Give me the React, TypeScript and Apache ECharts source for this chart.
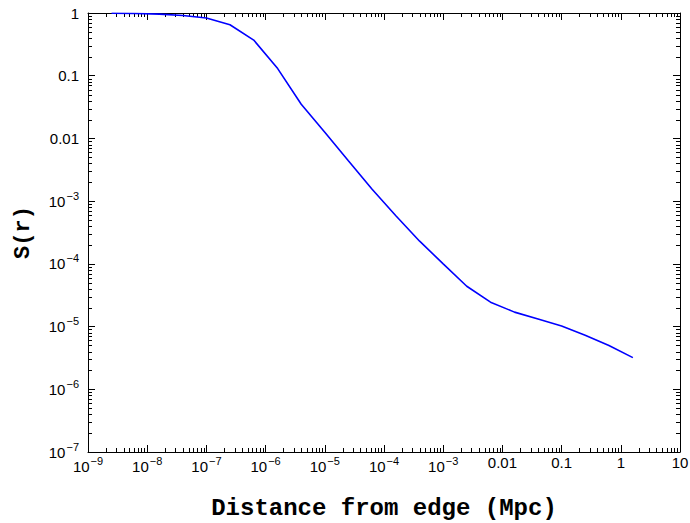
import React, { useEffect, useRef } from "react";
import * as echarts from "echarts";

const distance = [
  2.5e-9, 6.3e-9, 1.6e-8, 4e-8, 1e-7, 2.5e-7, 6.3e-7, 1.6e-6, 4e-6, 1e-5, 2.5e-5, 6.3e-5,
  1.6e-4, 4e-4, 1e-3, 2.5e-3, 6.3e-3, 1.6e-2, 4e-2, 0.1, 0.25, 0.63, 1.6,
];
const sValues = [
  0.99, 0.98, 0.96, 0.91, 0.83, 0.65, 0.37, 0.13, 0.035, 0.0125, 0.0044, 0.00155,
  5.8e-4, 2.3e-4, 1.0e-4, 4.4e-5, 2.45e-5, 1.7e-5, 1.32e-5, 1.02e-5, 7.3e-6, 5.0e-6, 3.2e-6,
];
const xRange = [1e-9, 10];
const yRange = [1e-7, 1];
const xPlainExponents = [-2, -1, 0, 1];
const yPlainExponents = [-2, -1, 0];
const xTitle = "Distance from edge (Mpc)";
const yTitle = "S(r)";

const TICK_FONT = "'Liberation Sans', Arial, sans-serif";
const TITLE_FONT = "'Liberation Mono', 'Courier New', monospace";

function fmt(v: number, plain: number[]) {
  const e = Math.round(Math.log10(v));
  if (plain.includes(e)) {
    const str = e >= 0 ? String(Math.pow(10, e)) : (Math.pow(10, e)).toFixed(-e);
    return "{b|" + str + "}";
  }
  return "{b|10}{s|\u2212" + Math.abs(e) + "}";
}

const rich = {
  b: { fontSize: 15, fontFamily: TICK_FONT, color: "#000" },
  s: { fontSize: 11, fontFamily: TICK_FONT, color: "#000", padding: [0, 0, 11, 1] },
};

export default function App() {
  const ref = useRef<HTMLDivElement>(null);
  useEffect(() => {
    if (!ref.current) return;
    const chart = echarts.init(ref.current, null, { renderer: "svg" });
    const axisLine = { show: true, onZero: false, lineStyle: { color: "#000", width: 1 } };
    const majorTick = { show: true, inside: true, length: 7, lineStyle: { color: "#000", width: 1 } };
    const baseX = {
      type: "log" as const,
      logBase: 10,
      min: xRange[0],
      max: xRange[1],
      splitNumber: 10,
      axisLine,
      axisTick: majorTick,
      splitLine: { show: false },
    };
    const baseY = {
      type: "log" as const,
      logBase: 10,
      min: yRange[0],
      max: yRange[1],
      splitNumber: 7,
      axisLine,
      axisTick: majorTick,
      splitLine: { show: false },
    };
    chart.setOption({
      animation: false,
      backgroundColor: "#fff",
      grid: { left: 88, right: 10, top: 13, bottom: 71, containLabel: false, outerBoundsMode: "none" },
      xAxis: [
        {
          ...baseX,
          position: "bottom",
          axisLabel: {
            margin: 3,
            formatter: (v: number) => fmt(v, xPlainExponents),
            rich,
            showMinLabel: true,
            showMaxLabel: true,
            hideOverlap: false,
          },
          name: xTitle,
          nameLocation: "middle",
          nameGap: 44,
          nameTextStyle: { fontFamily: TITLE_FONT, fontSize: 24, fontWeight: "bold", color: "#000" },
        },
        { ...baseX, position: "top", axisLabel: { show: false } },
      ],
      yAxis: [
        {
          ...baseY,
          position: "left",
          axisLabel: {
            margin: 9,
            formatter: (v: number) => fmt(v, yPlainExponents),
            rich,
            showMinLabel: true,
            showMaxLabel: true,
            hideOverlap: false,
          },
          name: yTitle,
          nameLocation: "middle",
          nameGap: 54,
          nameRotate: 90,
          nameTextStyle: { fontFamily: TITLE_FONT, fontSize: 22, fontWeight: "bold", color: "#000" },
        },
        { ...baseY, position: "right", axisLabel: { show: false } },
      ],
      series: [
        {
          type: "line",
          data: distance.map((d, i) => [d, sValues[i]]),
          showSymbol: false,
          symbol: "none",
          lineStyle: { color: "#0000ff", width: 1.6 },
          xAxisIndex: 0,
          yAxisIndex: 0,
        },
      ],
    });

    // log minor ticks (2..9 within each decade), placed through the axes' scales
    const els: any[] = [];
    const minorLen = 4;
    const yTop = chart.convertToPixel({ yAxisIndex: 0 }, yRange[1]) as number;
    const yBot = chart.convertToPixel({ yAxisIndex: 0 }, yRange[0]) as number;
    const xL = chart.convertToPixel({ xAxisIndex: 0 }, xRange[0]) as number;
    const xR = chart.convertToPixel({ xAxisIndex: 0 }, xRange[1]) as number;
    const style = { stroke: "#000", lineWidth: 1 };
    for (let e = Math.round(Math.log10(xRange[0])); e < Math.round(Math.log10(xRange[1])); e++) {
      for (let k = 2; k <= 9; k++) {
        const x = Math.round(chart.convertToPixel({ xAxisIndex: 0 }, k * Math.pow(10, e)) as number) + 0.5;
        els.push({ type: "line", shape: { x1: x, y1: yBot, x2: x, y2: yBot - minorLen }, style, silent: true });
        els.push({ type: "line", shape: { x1: x, y1: yTop, x2: x, y2: yTop + minorLen }, style, silent: true });
      }
    }
    for (let e = Math.round(Math.log10(yRange[0])); e < Math.round(Math.log10(yRange[1])); e++) {
      for (let k = 2; k <= 9; k++) {
        const y = Math.round(chart.convertToPixel({ yAxisIndex: 0 }, k * Math.pow(10, e)) as number) + 0.5;
        els.push({ type: "line", shape: { x1: xL, y1: y, x2: xL + minorLen, y2: y }, style, silent: true });
        els.push({ type: "line", shape: { x1: xR, y1: y, x2: xR - minorLen, y2: y }, style, silent: true });
      }
    }
    chart.setOption({ graphic: { elements: els } });
    return () => chart.dispose();
  }, []);
  return <div ref={ref} style={{ width: 690, height: 523, position: "absolute", left: 0, top: 0 }} />;
}
